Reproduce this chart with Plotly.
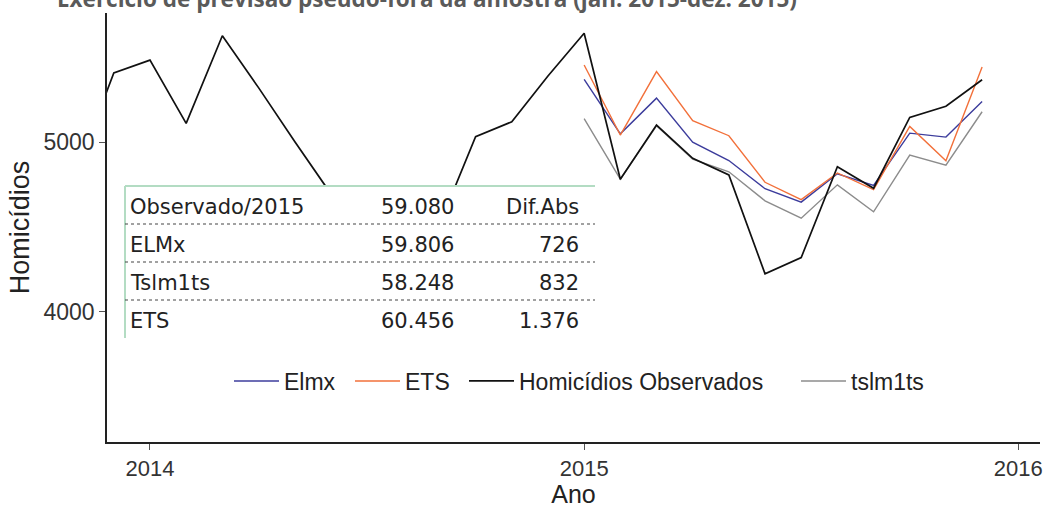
import plotly.graph_objects as go

# ---------------- data ----------------
# observed monthly homicides, Nov 2013 .. Dec 2015 (x = year + (month-1)/12)
obs_x = [2013 + 10/12, 2013 + 11/12] + [2014 + m/12 for m in range(12)] + [2015 + m/12 for m in range(12)]
obs_y = [4850, 5406,
         5482, 5110, 5625, 5320, 5003, 4695, 4480, 4420, 4513, 5031, 5119, 5388,
         5640, 4781, 5100, 4904, 4806, 4225, 4320, 4855, 4728, 5145, 5210, 5366]

fc_x = [2015 + m/12 for m in range(12)]
elmx = [5368, 5048, 5258, 4999, 4891, 4725, 4646, 4813, 4744, 5052, 5029, 5238]
ets = [5453, 5041, 5414, 5125, 5037, 4763, 4661, 4818, 4720, 5092, 4890, 5442]
tslm = [5138, 4781, 5095, 4899, 4825, 4654, 4552, 4748, 4589, 4923, 4864, 5178]

x_ticks = [2014, 2015, 2016]
x_tick_labels = ["2014", "2015", "2016"]
y_ticks = [4000, 5000]
y_tick_labels = ["4000", "5000"]

tab_names = ["Observado/2015", "ELMx", "Tslm1ts", "ETS"]
tab_totals = ["59.080", "59.806", "58.248", "60.456"]
tab_diffs = ["Dif.Abs", "726", "832", "1.376"]

title_text = "Exercício de previsão pseudo-fora da amostra (jan. 2015-dez. 2015)"

# ---------------- layout geometry ----------------
W, H = 1047, 508
ML, MR, MT, MB = 107, 7, 13, 66
PW, PH = W - ML - MR, H - MT - MB


def px(xp):
    return (xp - ML) / PW


def py(yp):
    return (H - MB - yp) / PH


C_BLUE = "#3c3c9c"
C_ORANGE = "#f2703a"
C_BLACK = "#111111"
C_GREY = "#8c8c8c"

fig = go.Figure()
fig.add_trace(go.Scatter(x=fc_x, y=tslm, mode="lines", name="tslm1ts",
                         line=dict(color=C_GREY, width=1.4), legend="legend4"))
fig.add_trace(go.Scatter(x=fc_x, y=elmx, mode="lines", name="Elmx",
                         line=dict(color=C_BLUE, width=1.4), legend="legend"))
fig.add_trace(go.Scatter(x=fc_x, y=ets, mode="lines", name="ETS",
                         line=dict(color=C_ORANGE, width=1.4), legend="legend2"))
fig.add_trace(go.Scatter(x=obs_x, y=obs_y, mode="lines", name="Homicídios Observados",
                         line=dict(color=C_BLACK, width=1.7), legend="legend3"))

AX_FONT = "Liberation Sans, Arial, sans-serif"
LEG_Y = py(381)


def leg(line_start):
    return dict(orientation="h", x=px(line_start - 4), xanchor="left", y=LEG_Y, yanchor="middle",
                font=dict(size=23, color="#222"), bgcolor="rgba(0,0,0,0)", itemwidth=45)


fig.update_layout(
    width=W, height=H,
    margin=dict(l=ML, r=MR, t=MT, b=MB, autoexpand=False),
    paper_bgcolor="white", plot_bgcolor="white",
    font=dict(family=AX_FONT, color="#333333"),
    xaxis=dict(range=[2013.901, 2016.05], tickvals=x_ticks, ticktext=x_tick_labels, automargin=False,
               showgrid=False, zeroline=False, showline=True, linecolor="#222", linewidth=1.5,
               ticks="outside", ticklen=6, tickcolor="#555", tickfont=dict(size=22, color="#333"),
               title=dict(text="Ano", font=dict(size=25, color="#222"), standoff=2)),
    yaxis=dict(range=[3235, 5759], tickvals=y_ticks, ticktext=y_tick_labels, automargin=False,
               showgrid=False, zeroline=False, showline=True, linecolor="#222", linewidth=1.5,
               ticks="outside", ticklen=6, tickcolor="#555", tickfont=dict(size=23, color="#333"),
               title=dict(text="Homicídios", font=dict(size=27, color="#222"), standoff=6)),
    legend=leg(233),
    legend2=leg(354),
    legend3=leg(468),
    legend4=leg(800),
    showlegend=True,
)

# title, partially cut off at the top of the canvas as in the reference
fig.add_annotation(xref="paper", yref="paper", x=px(56), y=py(15), xanchor="left", yanchor="bottom",
                   text="<b>" + title_text + "</b>", showarrow=False, borderpad=0,
                   font=dict(family="Open Sans, sans-serif", size=22.5, color="#5a5a5a"))

# ---------------- table overlay ----------------
TX0, TX1, TY0, TY1 = 125, 595, 186, 338
fig.add_shape(type="rect", xref="paper", yref="paper", x0=px(TX0), x1=px(TX1), y0=py(TY1), y1=py(TY0),
              fillcolor="white", line=dict(width=0), layer="above")
fig.add_shape(type="line", xref="paper", yref="paper", x0=px(TX0), x1=px(TX1), y0=py(TY0), y1=py(TY0),
              line=dict(color="#b3dcc3", width=2), layer="above")
fig.add_shape(type="line", xref="paper", yref="paper", x0=px(TX0), x1=px(TX0), y0=py(TY1), y1=py(TY0),
              line=dict(color="#b3dcc3", width=2), layer="above")
for sep in [224, 262, 300]:
    fig.add_shape(type="line", xref="paper", yref="paper", x0=px(TX0), x1=px(TX1), y0=py(sep), y1=py(sep),
                  line=dict(color="#444444", width=1.2, dash="dot"), layer="above")

row_y = [207, 245, 283, 321]
TFONT = dict(family="DejaVu Sans, Verdana, sans-serif", size=21, color="#222222")
for i in range(len(tab_names)):
    fig.add_annotation(xref="paper", yref="paper", x=px(128), y=py(row_y[i]), text=tab_names[i],
                       xanchor="left", yanchor="middle", showarrow=False, font=TFONT)
    fig.add_annotation(xref="paper", yref="paper", x=px(456), y=py(row_y[i]), text=tab_totals[i],
                       xanchor="right", yanchor="middle", showarrow=False, font=TFONT)
    fig.add_annotation(xref="paper", yref="paper", x=px(581), y=py(row_y[i]), text=tab_diffs[i],
                       xanchor="right", yanchor="middle", showarrow=False, font=TFONT)

fig.write_html("out.html", config={"displayModeBar": False},
               post_script="document.body.style.margin='0px';")
